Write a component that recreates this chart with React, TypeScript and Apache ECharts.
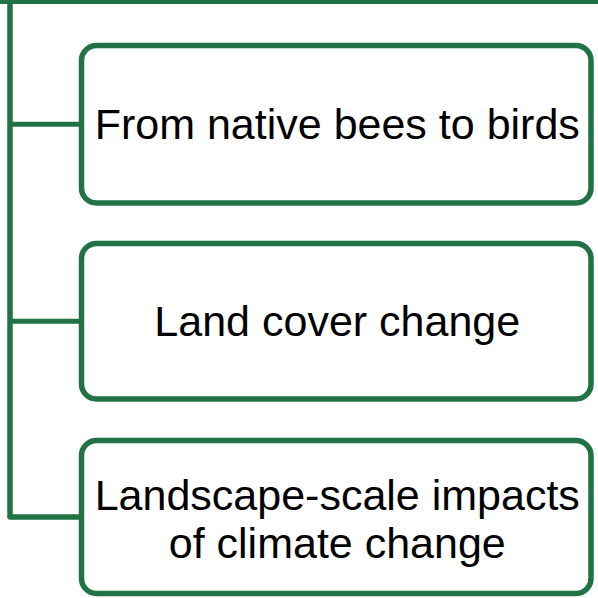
import React, { useEffect, useRef } from "react";
import * as echarts from "echarts";

const boxLabels: string[] = [
  "From native bees to birds",
  "Land cover change",
  "Landscape-scale impacts\nof climate change",
];

const GREEN = "#217346";
const FONT = "Liberation Sans";

// box layout (top, bottom) in pixels
const boxTops = [45.5, 243.5, 440.5];
const boxBottoms = [203, 399, 593.5];
const boxLeft = 81.5;
const boxRight = 591;
const spineX = 10;

export default function App() {
  const ref = useRef<HTMLDivElement>(null);
  useEffect(() => {
    if (!ref.current) return;
    const chart = echarts.init(ref.current, null, { renderer: "svg" });
    const elements: any[] = [];
    elements.push({
      type: "rect",
      shape: { x: 0, y: 0, width: 598, height: 4 },
      style: { fill: GREEN },
    });
    const mids = boxTops.map((t, i) => (t + boxBottoms[i]) / 2);
    elements.push({
      type: "polyline",
      shape: {
        points: [
          [spineX, 0],
          [spineX, mids[2]],
          [boxLeft, mids[2]],
        ],
      },
      style: { stroke: GREEN, lineWidth: 5.5, fill: null, lineJoin: "round" },
    });
    for (let i = 0; i < 2; i++) {
      elements.push({
        type: "line",
        shape: { x1: spineX, y1: mids[i], x2: boxLeft, y2: mids[i] },
        style: { stroke: GREEN, lineWidth: 5 },
      });
    }
    boxLabels.forEach((label, i) => {
      elements.push({
        type: "rect",
        shape: {
          x: boxLeft,
          y: boxTops[i],
          width: boxRight - boxLeft,
          height: boxBottoms[i] - boxTops[i],
          r: 15,
        },
        style: { fill: "#ffffff", stroke: GREEN, lineWidth: 5.5 },
      });
      elements.push({
        type: "text",
        x: (boxLeft + boxRight) / 2 + 1,
        y: mids[i] + (label.includes("\n") ? 2 : 0),
        style: {
          text: label,
          fill: "#000000",
          fontSize: 43,
          fontFamily: FONT,
          lineHeight: 48,
          align: "center",
          verticalAlign: "middle",
        },
      });
    });
    chart.setOption({
      animation: false,
      backgroundColor: "#ffffff",
      graphic: { elements },
    });
    return () => chart.dispose();
  }, []);
  return (
    <div
      ref={ref}
      style={{ position: "fixed", left: 0, top: 0, width: 598, height: 598 }}
    />
  );
}
